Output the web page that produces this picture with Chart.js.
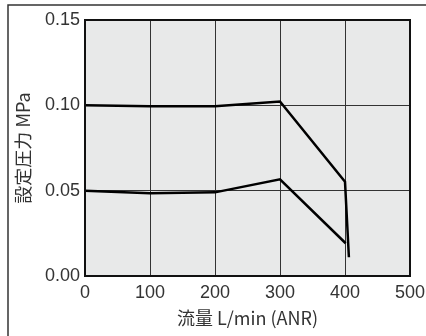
<!DOCTYPE html>
<html>
<head>
<meta charset="utf-8">
<script src="https://cdn.jsdelivr.net/npm/chart.js@4/dist/chart.umd.min.js"></script>
<style>
  html, body { margin: 0; padding: 0; background: #fff; }
  #wrap { width: 426px; height: 336px; }
</style>
</head>
<body>
<div id="wrap"><canvas id="myChart"></canvas></div>
<script>
// flow L/min(ANR) vs set pressure MPa
var flowHigh = [0, 100, 200, 300, 400, 406];
var presHigh = [0.100, 0.0995, 0.0995, 0.1022, 0.0552, 0.011];
var flowLow = [0, 100, 200, 300, 401];
var presLow = [0.0500, 0.0485, 0.0490, 0.0567, 0.0192];
var xTicks = [0, 100, 200, 300, 400, 500];
var yTicks = [0, 0.05, 0.10, 0.15];

function pts(xs, ys) {
  var out = [];
  for (var i = 0; i < xs.length; i++) out.push({x: xs[i], y: ys[i]});
  return out;
}

var frame = {
  id: 'frame',
  beforeDraw: function(chart) {
    var c = chart.ctx, a = chart.chartArea;
    c.save();
    c.fillStyle = '#e8e9e9';
    c.fillRect(a.left, a.top, a.right - a.left, a.bottom - a.top);
    c.strokeStyle = '#333';
    c.lineWidth = 1.5;
    c.beginPath();
    c.moveTo(8, 336);
    c.lineTo(8, 5);
    c.lineTo(426, 5);
    c.stroke();
    c.restore();
  },
  afterDatasetsDraw: function(chart) {
    var c = chart.ctx, a = chart.chartArea;
    c.save();
    c.strokeStyle = '#111';
    c.lineWidth = 2;
    c.strokeRect(a.left, a.top, a.right - a.left, a.bottom - a.top);
    c.restore();
  }
};

var ctx = document.getElementById("myChart");
var myChart = new Chart(ctx, {
  type: 'scatter',
  data: {
    datasets: [
      {
        data: pts(flowHigh, presHigh),
        showLine: true,
        borderColor: '#000',
        borderWidth: 2.5,
        pointRadius: 0,
        tension: 0
      },
      {
        data: pts(flowLow, presLow),
        showLine: true,
        borderColor: '#000',
        borderWidth: 2.5,
        pointRadius: 0,
        tension: 0
      }
    ]
  },
  options: {
    responsive: true,
    maintainAspectRatio: false,
    animation: false,
    layout: { padding: { left: 0, top: 20, right: 16, bottom: 0 } },
    plugins: { legend: { display: false }, tooltip: { enabled: false } },
    scales: {
      x: {
        type: 'linear',
        min: 0, max: 500,
        afterBuildTicks: function(s) { s.ticks = xTicks.map(function(v) { return {value: v}; }); },
        afterFit: function(s) { s.height = 60; s.paddingRight = 0; s.paddingLeft = 0; },
        grid: { color: '#333', lineWidth: 1, drawTicks: false },
        border: { color: '#111', width: 2 },
        ticks: { color: '#333', padding: 6, font: { family: 'Liberation Sans', size: 18 } },
        title: {
          display: true,
          text: '流量 L/min (ANR)',
          color: '#333',
          padding: { top: 0, bottom: 7 },
          font: { family: 'Noto Sans CJK JP', size: 18 }
        }
      },
      y: {
        min: 0, max: 0.15,
        afterBuildTicks: function(s) { s.ticks = yTicks.map(function(v) { return {value: v}; }); },
        afterFit: function(s) { s.width = 85; s.paddingTop = 0; s.paddingBottom = 0; },
        grid: { color: '#333', lineWidth: 1, drawTicks: false },
        border: { color: '#111', width: 2 },
        ticks: {
          color: '#333', padding: 5,
          font: { family: 'Liberation Sans', size: 18 },
          callback: function(v) { return v.toFixed(2); }
        },
        title: {
          display: true,
          text: '設定圧力 MPa',
          color: '#333',
          padding: { top: 12, bottom: 0 },
          font: { family: 'Noto Sans CJK JP', size: 18 }
        }
      }
    }
  },
  plugins: [frame]
});
</script>
</body>
</html>
